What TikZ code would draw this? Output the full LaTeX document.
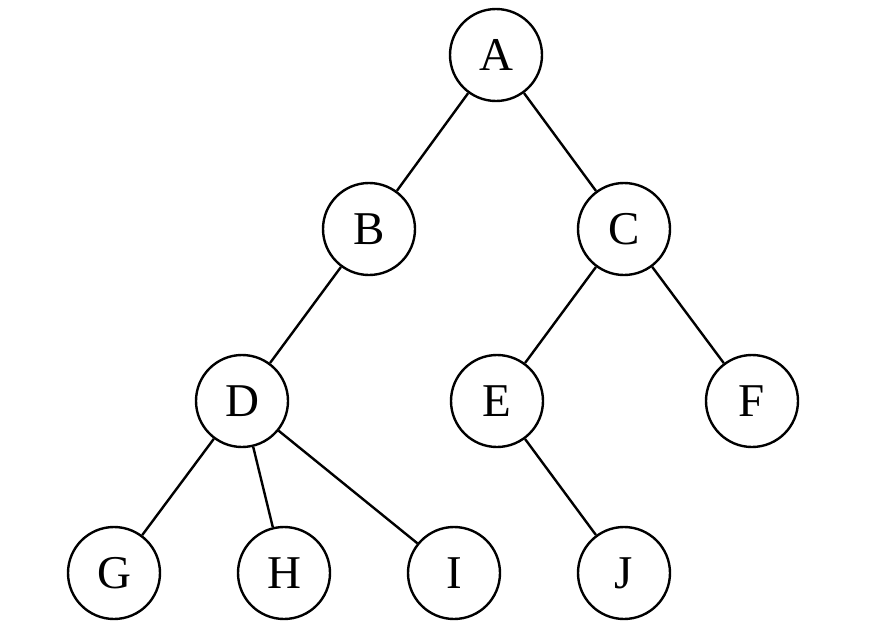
\documentclass[tikz,border=0pt]{standalone}
\usepackage{fontspec}
\setmainfont{Liberation Serif}
\begin{document}
\begin{tikzpicture}[x=1pt,y=-1pt,
  treenode/.style={circle,draw,line width=2.4pt,minimum size=92pt,inner sep=0pt,font=\fontsize{47}{47}\selectfont},
  edge/.style={line width=2.4pt}]
\useasboundingbox (0,0) rectangle (871,640);
\node[treenode] (A) at (496,55) {A};
\node[treenode] (B) at (369,229) {B};
\node[treenode] (C) at (624,229) {C};
\node[treenode] (D) at (242,401) {D};
\node[treenode] (E) at (497,401) {E};
\node[treenode] (F) at (752,401) {F};
\node[treenode] (G) at (114,573) {G};
\node[treenode] (H) at (284,573) {H};
\node[treenode] (I) at (454,573) {I};
\node[treenode] (J) at (624,573) {J};
\draw[edge] (A) -- (B);
\draw[edge] (A) -- (C);
\draw[edge] (B) -- (D);
\draw[edge] (C) -- (E);
\draw[edge] (C) -- (F);
\draw[edge] (D) -- (G);
\draw[edge] (D) -- (H);
\draw[edge] (D) -- (I);
\draw[edge] (E) -- (J);
\end{tikzpicture}
\end{document}
